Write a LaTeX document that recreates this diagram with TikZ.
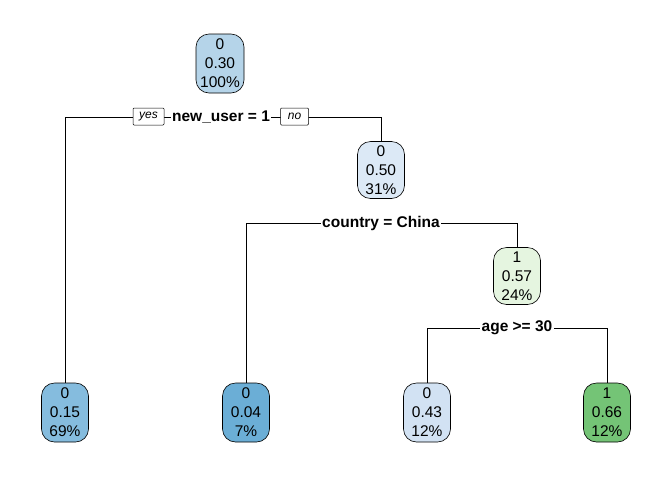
\documentclass[tikz,border=0pt]{standalone}
\usepackage{fontspec}
\setmainfont{Liberation Sans}
\usetikzlibrary{shapes.misc}
\definecolor{cA}{HTML}{B5D4E9}
\definecolor{cB}{HTML}{DCE9F6}
\definecolor{cC}{HTML}{E5F5E0}
\definecolor{cL1}{HTML}{85BCDE}
\definecolor{cL2}{HTML}{6BAED6}
\definecolor{cL3}{HTML}{D2E2F3}
\definecolor{cL4}{HTML}{74C476}
\tikzset{
  tnode/.style={draw=black, line width=0.6pt, rounded corners=13pt, minimum width=47pt, minimum height=58pt, inner sep=0pt, align=center, font=\fontsize{15.5}{19}\selectfont},
  splitlbl/.style={fill=white, inner sep=1.5pt, font=\fontsize{15.5}{18}\selectfont\bfseries},
  yn/.style={draw=black, line width=0.5pt, fill=white, rounded corners=1pt, inner sep=0pt, minimum width=31pt, minimum height=17pt, font=\fontsize{12}{14}\selectfont\itshape},
  conn/.style={draw=black, line width=0.6pt}
}
\begin{document}
\begin{tikzpicture}[x=1pt,y=-1pt]
\useasboundingbox (0,0) rectangle (672,480);
% nodes
\node[tnode, fill=cA, minimum width=48pt, minimum height=59pt] (root) at (220,63.5) {0\\0.30\\100\%};
\node[tnode, fill=cB, minimum height=57pt] (n2) at (381,170) {0\\0.50\\31\%};
\node[tnode, fill=cC, minimum height=57pt] (n3) at (517,276) {1\\0.57\\24\%};
\node[tnode, fill=cL1, minimum height=59pt] (l1) at (65,412.5) {0\\0.15\\69\%};
\node[tnode, fill=cL2, minimum height=59pt] (l2) at (246,412.5) {0\\0.04\\7\%};
\node[tnode, fill=cL3, minimum height=59pt] (l3) at (427,412.5) {0\\0.43\\12\%};
\node[tnode, fill=cL4, minimum height=59pt] (l4) at (607,412.5) {1\\0.66\\12\%};
% split coordinates
\coordinate (s1) at (221,117);
\coordinate (s2) at (381,223);
\coordinate (s3) at (517,328);
% connectors
\draw[conn] (l1.north) -- (l1.north |- s1) -- (n2.north |- s1) -- (n2.north);
\draw[conn] (l2.north) -- (l2.north |- s2) -- (n3.north |- s2) -- (n3.north);
\draw[conn] (l3.north) -- (l3.north |- s3) -- (l4.north |- s3) -- (l4.north);
% split labels
\node[splitlbl] (t1) at (s1) {new\_user = 1};
\node[splitlbl] (t2) at (s2) {country = China};
\node[splitlbl] (t3) at (s3) {age >= 30};
\node[yn] (yes) at (148.5,116.5) {yes};
\node[yn, minimum width=28pt] (no) at (294.5,116.5) {no};
\end{tikzpicture}
\end{document}
